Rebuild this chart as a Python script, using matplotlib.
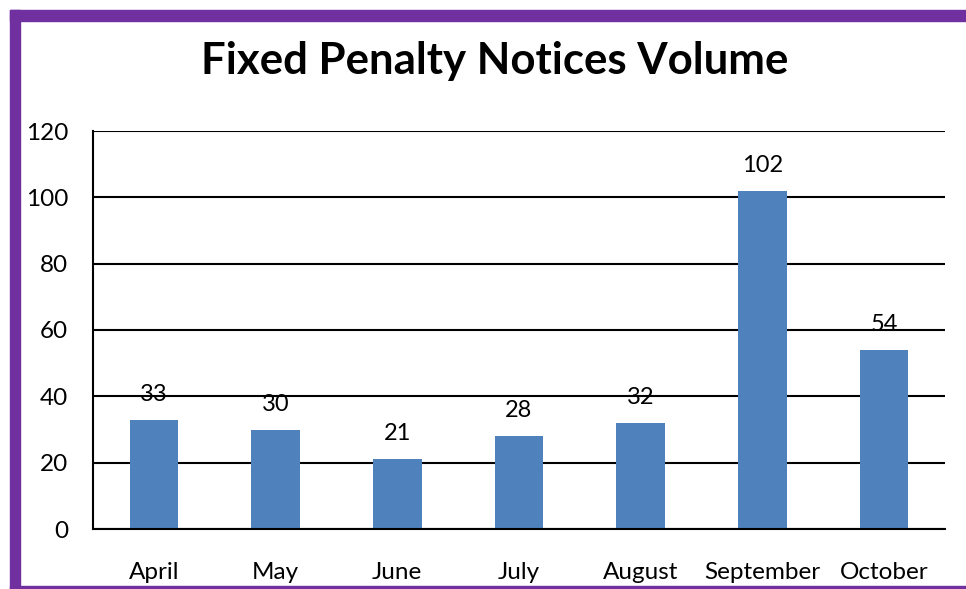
import matplotlib
matplotlib.use('Agg')
import matplotlib.pyplot as plt
from matplotlib.patches import Rectangle

months = ['April', 'May', 'June', 'July', 'August', 'September', 'October']
notices = [33, 30, 21, 28, 32, 102, 54]
yticks = [0, 20, 40, 60, 80, 100, 120]

plt.rcParams['font.family'] = ['Lato', 'DejaVu Sans']

fig = plt.figure(figsize=(9.66, 5.89), dpi=100)
W, H = 966, 589

# purple frame (top, left, bottom)
purple = '#7030A0'
fig.patches.append(Rectangle((10 / W, 1 - 21 / H), 1, 11 / H, transform=fig.transFigure,
                             color=purple, zorder=0))
fig.patches.append(Rectangle((10 / W, 0), 10 / W, 1 - 10 / H, transform=fig.transFigure,
                             color=purple, zorder=0))
fig.patches.append(Rectangle((10 / W, 0), 1, 3 / H, transform=fig.transFigure,
                             color=purple, zorder=0))

ax = fig.add_axes([93 / W, 1 - 529 / H, (945 - 93) / W, (529 - 131) / H])
x = range(len(months))
bars = ax.bar(x, notices, width=0.4, color='#4F81BD', zorder=2)
for xi, v in zip(x, notices):
    ax.text(xi, v + 4.5, str(v), ha='center', va='bottom', fontsize=17)

ax.set_ylim(0, 120)
ax.set_xlim(-0.5, len(months) - 0.5)
ax.set_yticks(yticks)
ax.set_xticks(list(x))
ax.set_xticklabels(months)
ax.tick_params(axis='both', length=0, labelsize=17.5)
ax.tick_params(axis='y', pad=18)
ax.tick_params(axis='x', pad=24)
ax.grid(axis='y', color='black', linewidth=1.5, zorder=0)
for s in ['top', 'right']:
    ax.spines[s].set_visible(False)
ax.spines['left'].set_linewidth(1.5)
ax.spines['bottom'].set_linewidth(1.5)

fig.text(495 / W, 1 - 61 / H, 'Fixed Penalty Notices Volume', ha='center', va='center',
         fontsize=31.5, fontweight='bold')

fig.savefig('out.png', dpi=100)
